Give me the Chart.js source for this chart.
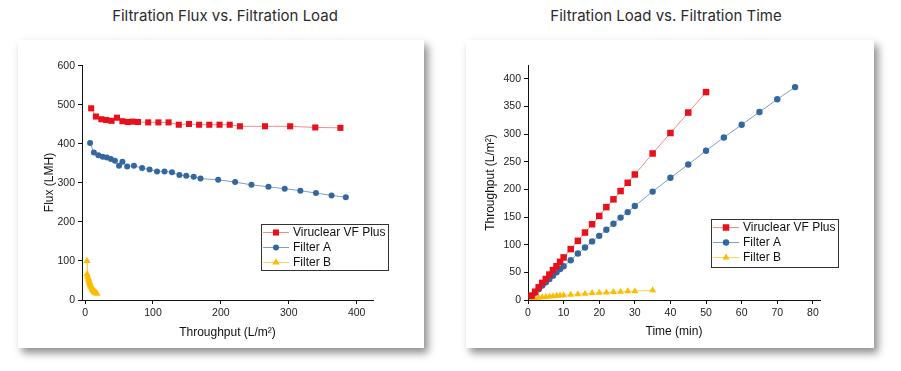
<!DOCTYPE html>
<html lang="en">
<head>
    <meta charset="UTF-8">
    <title>Filtration Charts</title>
    <style>
        body {
            margin: 0;
            background: #fff;
            width: 901px;
            height: 371px;
            position: relative;
            overflow: hidden;
            font-family: Inter, "Open Sans", sans-serif;
        }
        .title {
            position: absolute;
            top: 6px;
            font-size: 15px;
            color: #2b2b2b;
            text-align: center;
        }
        .card {
            position: absolute;
            top: 40px;
            height: 308px;
            background: #fff;
            box-shadow: 4px 5px 8px rgba(0, 0, 0, 0.45);
        }
        canvas { display: block; }
    </style>
    <script src="https://cdn.jsdelivr.net/npm/chart.js"></script>
</head>
<body>

<div class="title" style="left:18px;width:414px;">Filtration Flux vs. Filtration Load</div>
<div class="title" style="left:466px;width:400px;">Filtration Load vs. Filtration Time</div>

<div class="card" style="left:18px;width:406px;">
    <canvas id="fluxChart" width="406" height="308"></canvas>
</div>
<div class="card" style="left:466px;width:408px;">
    <canvas id="timeChart" width="408" height="308"></canvas>
</div>

<script>
    // Series names
    const seriesNames = ['Viruclear VF Plus', 'Filter A', 'Filter B'];

    // Flux vs. load (left chart)
    const vfLoad = [9, 16, 24, 31, 39, 47, 55, 63, 70, 78, 93, 108, 123, 138, 153, 168, 183, 198, 213, 228, 265, 302, 339, 376];
    const vfFlux = [491, 470, 463, 461, 459, 467, 458, 456, 457, 456, 455, 455, 455, 449, 451, 449, 449, 449, 449, 445, 445, 445, 442, 441];
    const aLoad = [7.4, 13, 19.6, 26, 32, 38, 44, 50, 55, 62, 72, 84, 95, 106, 117, 128, 139, 149, 160, 170, 196, 221, 245, 270, 294, 317, 340, 363, 384];
    const aFlux = [402, 378, 371, 367, 365, 361, 357, 344, 354, 342, 344, 338, 334, 329, 329, 327, 320, 318, 316, 311, 308, 302, 295, 290, 285, 280, 274, 268, 263];
    const bLoad = [2.9, 3, 4, 5, 5.6, 6.3, 7, 7.5, 8, 8.5, 9.5, 10.5, 11.2, 12, 12.7, 13.4, 14, 14.8, 15.5, 16, 17.5];
    const bFlux = [100, 66, 60, 55, 50, 46, 43, 40, 38, 35, 32, 29, 27, 25, 23, 22, 21, 20, 19, 18, 16];

    // Load vs. time (right chart)
    const vfTime = [1, 2, 3, 4, 5, 6, 7, 8, 9, 10, 12, 14, 16, 18, 20, 22, 24, 26, 28, 30, 35, 40, 45, 50];
    const vfThroughput = [8, 15, 23, 31, 38, 46, 54, 61, 69, 77, 92, 107, 122, 137, 152, 168, 182, 197, 212, 227, 265, 302, 339, 376];
    const aTime = [1, 2, 3, 4, 5, 6, 7, 8, 9, 10, 12, 14, 16, 18, 20, 22, 24, 26, 28, 30, 35, 40, 45, 50, 55, 60, 65, 70, 75];
    const aThroughput = [7.4, 13, 19.6, 26, 32, 38, 44, 50, 56, 61, 72, 84, 95, 106, 116, 127, 138, 149, 159, 170, 196, 221, 245, 270, 294, 317, 340, 363, 385];
    const bTime = [1, 2, 3, 4, 5, 6, 7, 8, 9, 10, 12, 14, 16, 18, 20, 22, 24, 26, 28, 30, 35];
    const bThroughput = [2, 3, 4, 5, 5.6, 6.3, 7, 7.5, 8, 8.5, 9.5, 10.5, 11.2, 12.5, 13, 13.5, 14.3, 15, 15.6, 16, 17.8];

    // Tick labels
    const loadTicks = [0, 100, 200, 300, 400];
    const fluxTicks = [0, 100, 200, 300, 400, 500, 600];
    const timeTicks = [0, 10, 20, 30, 40, 50, 60, 70, 80];
    const throughputTicks = [0, 50, 100, 150, 200, 250, 300, 350, 400];

    const red = '#e8101a', blue = '#33679f', gold = '#fcbd00';
    const lineColors = ['#f28a8a', '#7d9fc6', '#fdd45a'];

    function pairs(xs, ys) {
        return xs.map((x, i) => ({ x: x, y: ys[i] }));
    }

    function makeDatasets(sets, sizes) {
        const styles = ['rect', 'circle', 'triangle'];
        const colors = [red, blue, gold];
        return sets.map((d, i) => ({
            label: seriesNames[i],
            data: d,
            showLine: true,
            borderColor: lineColors[i],
            borderWidth: 1,
            pointStyle: styles[i],
            pointRadius: sizes[i],
            pointBackgroundColor: colors[i],
            pointBorderColor: colors[i],
            pointBorderWidth: 0
        }));
    }

    function drawMarker(ctx, style, r, x, y) {
        ctx.beginPath();
        if (style === 'rect') {
            const s = r / Math.SQRT2;
            ctx.fillRect(x - s, y - s, 2 * s, 2 * s);
            return;
        }
        if (style === 'circle') {
            ctx.arc(x, y, r, 0, Math.PI * 2);
        } else {
            ctx.moveTo(x, y - r);
            ctx.lineTo(x + r * 0.866, y + r * 0.5);
            ctx.lineTo(x - r * 0.866, y + r * 0.5);
            ctx.closePath();
        }
        ctx.fill();
    }

    // legend box drawn inside the plot, like the original
    const boxLegend = {
        id: 'boxLegend',
        afterDatasetsDraw(chart, args, opts) {
            const ctx = chart.ctx;
            const x = opts.x, y = opts.y;
            ctx.save();
            ctx.fillStyle = '#fff';
            ctx.fillRect(x, y, opts.w, opts.h);
            ctx.strokeStyle = '#333';
            ctx.lineWidth = 1;
            ctx.strokeRect(x + 0.5, y + 0.5, opts.w, opts.h);
            chart.data.datasets.forEach((ds, i) => {
                const cy = y + 8.5 + i * 15;
                ctx.strokeStyle = ds.borderColor;
                ctx.lineWidth = 1;
                ctx.beginPath();
                ctx.moveTo(x + 2, cy);
                ctx.lineTo(x + 28, cy);
                ctx.stroke();
                ctx.fillStyle = ds.pointBackgroundColor;
                drawMarker(ctx, ds.pointStyle, ds.pointRadius, x + 15, cy);
                ctx.fillStyle = '#111';
                ctx.font = '12px "Liberation Sans", Arial, sans-serif';
                ctx.textBaseline = 'middle';
                ctx.fillText(ds.label, x + 32, cy + 0.5);
            });
            ctx.restore();
        }
    };

    function axis(cfg) {
        return {
            type: 'linear',
            position: cfg.position,
            min: cfg.min,
            max: cfg.max,
            afterBuildTicks: s => { s.ticks = cfg.ticks.map(v => ({ value: v })); },
            afterFit: s => {
                if (cfg.position === 'left') s.width = cfg.size;
                else s.height = cfg.size;
            },
            border: { color: '#111', width: 1 },
            grid: { drawOnChartArea: false, drawTicks: true, tickLength: 4, color: '#111' },
            ticks: {
                color: '#222',
                padding: 3,
                maxRotation: 0,
                font: { family: '"Liberation Sans", Arial, sans-serif', size: 10.5 }
            },
            title: {
                display: true,
                text: cfg.title,
                color: '#111',
                padding: cfg.titlePad,
                font: { family: '"Liberation Sans", Arial, sans-serif', size: 12 }
            }
        };
    }

    Chart.defaults.animation = false;

    new Chart(document.getElementById('fluxChart'), {
        type: 'scatter',
        data: {
            datasets: makeDatasets([
                pairs(vfLoad, vfFlux),
                pairs(aLoad, aFlux),
                pairs(bLoad, bFlux)
            ], [4.3, 3, 4.2])
        },
        options: {
            responsive: false,
            layout: { padding: { left: 0, top: 25, right: 51, bottom: 0 } },
            plugins: {
                legend: { display: false },
                tooltip: { enabled: false },
                boxLegend: { x: 243, y: 184, w: 127, h: 46 }
            },
            scales: {
                x: axis({ position: 'bottom', min: -4.5, max: 424, ticks: loadTicks, size: 48,
                          title: 'Throughput (L/m\u00B2)', titlePad: { top: 0, bottom: 8 } }),
                y: axis({ position: 'left', min: 0, max: 602, ticks: fluxTicks, size: 64,
                          title: 'Flux (LMH)', titlePad: { top: 24, bottom: 0 } })
            }
        },
        plugins: [boxLegend]
    });

    new Chart(document.getElementById('timeChart'), {
        type: 'scatter',
        data: {
            datasets: makeDatasets([
                pairs(vfTime, vfThroughput),
                pairs(aTime, aThroughput),
                pairs(bTime, bThroughput)
            ], [4.6, 3.2, 4])
        },
        options: {
            responsive: false,
            layout: { padding: { left: 0, top: 25, right: 54, bottom: 0 } },
            plugins: {
                legend: { display: false },
                tooltip: { enabled: false },
                boxLegend: { x: 245, y: 179, w: 127, h: 48 }
            },
            scales: {
                x: axis({ position: 'bottom', min: 0, max: 82, ticks: timeTicks, size: 48,
                          title: 'Time (min)', titlePad: { top: 0, bottom: 9 } }),
                y: axis({ position: 'left', min: 0, max: 425, ticks: throughputTicks, size: 62,
                          title: 'Throughput (L/m\u00B2)', titlePad: { top: 17, bottom: 0 } })
            }
        },
        plugins: [boxLegend]
    });
</script>

</body>
</html>
